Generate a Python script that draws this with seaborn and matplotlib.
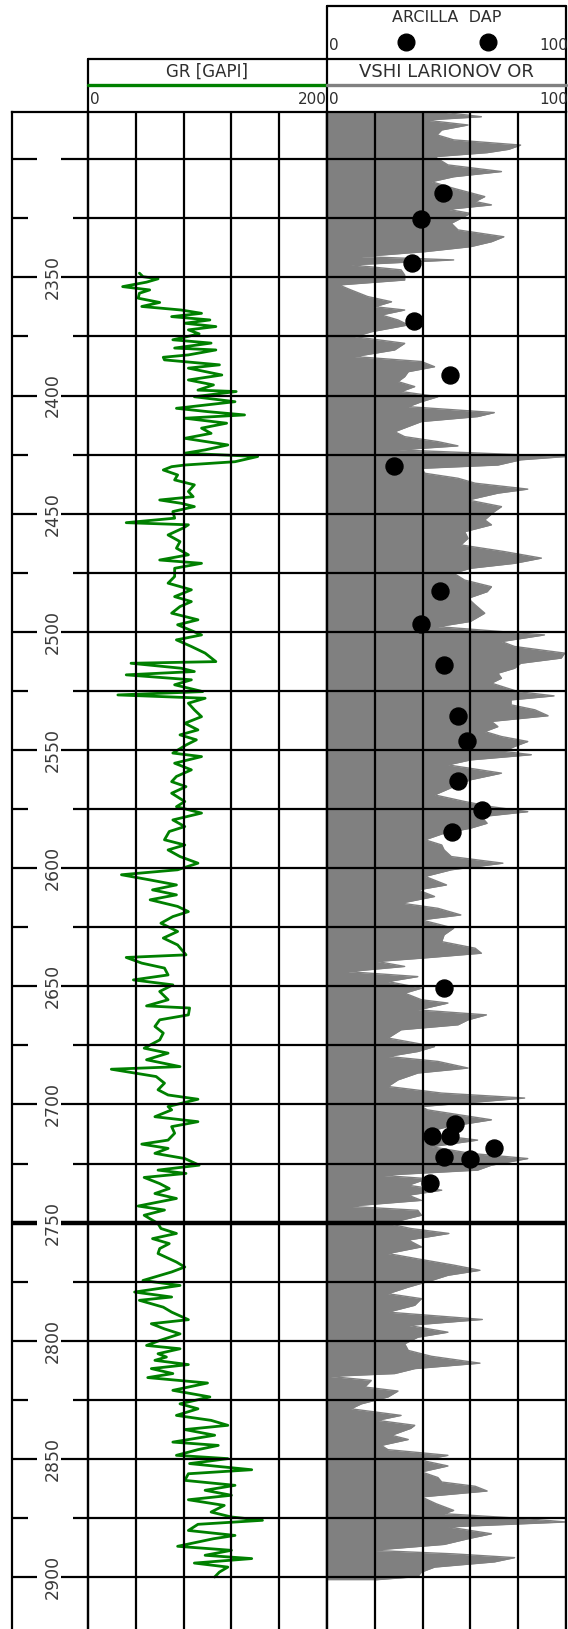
import numpy as np
import matplotlib
matplotlib.use('Agg')
import matplotlib.pyplot as plt
from matplotlib.lines import Line2D
import seaborn as sns

# GR curve (depth m, GAPI)
gr_depth = [2348.2, 2349.7, 2350.6, 2352.0, 2353.9, 2355.3, 2356.7, 2358.8, 2360.6, 2362.3,
            2363.8, 2365.2, 2366.6, 2368.0, 2369.4, 2370.8, 2372.2, 2373.9, 2376.4, 2377.8,
            2379.9, 2380.7, 2382.8, 2383.8, 2384.9, 2387.0, 2388.4, 2391.3, 2393.4, 2395.5,
            2397.7, 2398.3, 2400.5, 2402.6, 2405.4, 2406.8, 2408.2, 2409.6, 2411.7, 2413.8,
            2416.0, 2418.1, 2420.9, 2423.0, 2424.4, 2425.8, 2428.0, 2429.4, 2430.1, 2431.5,
            2433.6, 2435.7, 2437.8, 2440.6, 2442.8, 2444.2, 2445.6, 2447.0, 2449.1, 2451.9,
            2453.8, 2454.7, 2456.1, 2459.0, 2461.8, 2464.6, 2467.4, 2469.6, 2471.0, 2473.1,
            2476.6, 2479.4, 2482.2, 2485.1, 2487.2, 2489.3, 2492.1, 2494.9, 2497.0, 2501.3,
            2503.4, 2506.2, 2509.0, 2512.6, 2513.3, 2515.4, 2516.8, 2518.2, 2520.3, 2522.4,
            2525.3, 2526.7, 2528.1, 2530.2, 2533.0, 2535.9, 2538.7, 2541.5, 2543.6, 2545.7,
            2547.9, 2551.3, 2552.8, 2555.6, 2558.4, 2561.2, 2563.4, 2565.5, 2568.3, 2571.8,
            2574.0, 2576.7, 2579.6, 2582.4, 2584.5, 2588.0, 2590.2, 2592.3, 2595.1, 2597.9,
            2600.7, 2602.8, 2605.0, 2607.1, 2609.2, 2611.3, 2613.4, 2616.2, 2618.4, 2620.5,
            2623.3, 2626.8, 2629.6, 2632.5, 2636.7, 2637.8, 2640.2, 2642.3, 2645.2, 2647.3,
            2649.4, 2652.2, 2655.7, 2658.3, 2659.2, 2662.1, 2664.2, 2667.0, 2669.8, 2672.7,
            2676.2, 2678.3, 2681.1, 2684.0, 2685.1, 2688.2, 2691.0, 2693.8, 2696.0, 2697.8,
            2700.9, 2702.3, 2705.2, 2707.3, 2709.4, 2712.2, 2715.1, 2716.8, 2718.6, 2720.7,
            2722.9, 2725.7, 2727.8, 2729.2, 2730.9, 2733.5, 2735.6, 2737.7, 2739.8, 2743.0,
            2744.7, 2746.9, 2750.4, 2752.5, 2754.6, 2756.8, 2758.9, 2761.0, 2763.1, 2766.7,
            2768.8, 2770.9, 2774.5, 2776.6, 2779.4, 2781.5, 2782.9, 2785.8, 2787.9, 2791.1,
            2792.8, 2795.0, 2797.1, 2799.9, 2802.0, 2803.4, 2805.5, 2806.9, 2808.3, 2810.1,
            2811.8, 2813.9, 2815.6, 2817.9, 2819.6, 2821.0, 2823.8, 2826.7, 2828.8, 2831.6,
            2833.7, 2835.8, 2837.6, 2840.0, 2842.9, 2844.3, 2846.1, 2848.5, 2849.9, 2852.0,
            2854.6, 2856.3, 2859.1, 2861.2, 2863.3, 2865.4, 2867.3, 2869.7, 2872.5, 2874.6,
            2876.0, 2877.7, 2880.3, 2882.4, 2883.8, 2887.0, 2888.7, 2890.8, 2892.2, 2894.1,
            2895.8, 2897.9, 2900.0]
gr = [43, 46, 58.6, 49, 29, 51.6, 43, 42, 60, 45,
      78, 95, 70, 102, 81, 107, 84, 93, 71, 103,
      72.5, 107, 84, 63, 64, 110, 84, 112, 84, 105,
      92, 124, 89, 123, 74, 100, 131, 81, 116, 95,
      103, 81, 117, 98, 81, 142, 123, 81, 70, 63,
      75, 72.5, 89, 84, 88, 60, 78, 89, 71, 72.5,
      32, 84, 79.5, 67, 77, 74, 84, 60, 95, 72.5,
      72.5, 67, 86.5, 72.5, 86.5, 77, 70, 92, 75, 95,
      74, 86.5, 98, 107, 36, 78, 89, 32, 86.5, 72.5,
      96, 25, 98, 84, 89, 95, 81, 92, 77, 90.7,
      82, 71, 95, 72.5, 86.5, 74, 70, 82, 70, 81,
      74, 95, 71, 81, 68, 64, 81, 67, 77, 92,
      75, 28, 52, 74, 54, 74, 52, 75, 84, 71,
      61, 75, 63, 75, 82, 32, 45, 64, 67, 38,
      71, 60, 67, 49, 85, 84, 60, 56, 63, 60,
      47, 67, 49, 77, 19.5, 57, 64, 58.6, 67, 92,
      67, 70, 56, 92, 70, 72.5, 67, 45, 67, 56,
      81, 93, 58.6, 82, 47, 60, 68, 56, 74, 42,
      64, 47, 58.6, 61, 74, 54, 68, 60, 58.6, 74,
      81, 70, 46, 77, 39, 70, 43, 63, 70, 84,
      53, 64, 77, 60, 49, 77, 58.6, 65.6, 56, 84,
      53, 71, 50, 100, 84, 71, 102, 77, 92, 74,
      103, 117, 81, 106, 71, 109, 92, 74, 117, 85,
      137, 84, 81, 123, 98, 120, 84, 114, 103, 120,
      146, 92, 84, 123, 105, 75, 120, 98, 137, 89,
      117, 110, 106]

# VSHI LARIONOV OR (depth m, %)
vsh_depth = [2280.0, 2282.0, 2283.4, 2285.5, 2287.6, 2289.7, 2291.8, 2294.0, 2295.8, 2297.2,
             2298.9, 2302.4, 2305.2, 2307.4, 2309.5, 2312.3, 2315.8, 2317.9, 2319.3, 2321.2,
             2322.9, 2327.1, 2329.9, 2332.8, 2334.9, 2337.0, 2339.1, 2341.2, 2342.6, 2344.7,
             2346.8, 2349.0, 2351.1, 2353.2, 2355.3, 2358.1, 2360.3, 2362.4, 2363.8, 2365.9,
             2368.0, 2370.1, 2373.0, 2375.1, 2377.9, 2380.7, 2383.5, 2385.6, 2387.8, 2389.9,
             2392.0, 2394.1, 2396.2, 2398.3, 2400.5, 2402.6, 2404.7, 2407.2, 2408.9, 2411.0,
             2413.1, 2415.3, 2417.4, 2419.5, 2421.3, 2423.0, 2425.8, 2427.2, 2429.4, 2430.8,
             2432.9, 2435.0, 2437.1, 2439.6, 2441.3, 2444.2, 2447.0, 2449.1, 2452.6, 2454.7,
             2457.6, 2460.4, 2463.2, 2466.0, 2468.8, 2471.0, 2473.1, 2475.2, 2478.1, 2480.9,
             2483.0, 2485.8, 2488.6, 2492.1, 2495.6, 2497.8, 2501.3, 2504.1, 2506.2, 2509.0,
             2511.1, 2513.3, 2515.4, 2517.5, 2519.6, 2521.7, 2525.3, 2527.1, 2528.8, 2530.9,
             2533.0, 2535.5, 2537.9, 2540.1, 2542.2, 2544.3, 2546.4, 2548.5, 2550.6, 2552.0,
             2554.2, 2556.3, 2559.8, 2562.6, 2565.5, 2569.0, 2571.8, 2574.0, 2576.1, 2578.2,
             2581.0, 2583.1, 2585.2, 2588.0, 2590.2, 2592.3, 2595.1, 2597.9, 2600.7, 2603.5,
             2607.1, 2609.2, 2612.0, 2614.8, 2617.0, 2619.8, 2621.9, 2625.4, 2628.2, 2631.1,
             2633.9, 2636.0, 2638.1, 2639.5, 2641.6, 2643.8, 2645.9, 2648.0, 2650.8, 2652.9,
             2655.7, 2657.1, 2660.0, 2662.1, 2664.2, 2666.3, 2668.4, 2671.9, 2675.5, 2677.6,
             2679.7, 2681.8, 2684.6, 2686.7, 2689.6, 2692.4, 2695.2, 2697.3, 2700.9, 2702.3,
             2706.5, 2709.4, 2712.2, 2715.1, 2717.9, 2720.7, 2722.9, 2725.7, 2727.8, 2730.0,
             2731.4, 2734.2, 2736.3, 2738.4, 2740.6, 2743.1, 2744.8, 2746.9, 2750.4, 2752.5,
             2754.6, 2757.4, 2760.3, 2763.1, 2765.9, 2768.0, 2770.2, 2772.3, 2774.5, 2777.3,
             2780.1, 2782.2, 2785.0, 2787.9, 2791.0, 2793.5, 2796.4, 2798.5, 2801.3, 2804.1,
             2806.6, 2809.5, 2811.8, 2813.9, 2815.1, 2816.8, 2819.6, 2821.3, 2823.8, 2826.7,
             2828.8, 2831.6, 2833.7, 2835.8, 2837.1, 2840.0, 2841.8, 2844.3, 2846.1, 2848.5,
             2850.6, 2853.0, 2855.5, 2857.9, 2859.8, 2861.6, 2863.6, 2866.1, 2869.0, 2871.8,
             2873.2, 2875.3, 2876.7, 2878.8, 2881.7, 2883.8, 2886.2, 2888.7, 2890.2, 2891.8,
             2893.6, 2895.8, 2897.9, 2899.8, 2901.2]
vsh = [48, 64.6, 41, 59, 48, 46, 53, 81, 76, 67,
       45, 50.6, 73, 53, 43.7, 53, 66, 62, 68.8, 50.6,
       60, 52, 54.8, 74, 68.8, 60, 41, 14.4, 53, 10,
       31, 32.5, 32.5, 5, 10, 17, 27, 20, 32.5, 22.7,
       29.7, 34, 18.5, 11.6, 32.5, 28.3, 11.6, 39.5, 45, 34,
       32.5, 29.7, 36.7, 31, 46.4, 39.5, 34, 70, 63, 39.5,
       34, 28.3, 32.5, 46.4, 54.8, 29.7, 100, 81, 71.5, 39.5,
       41, 54.8, 62, 84, 71.5, 59, 73, 70, 66, 68.8,
       57.6, 59, 56, 74, 89.7, 78.5, 60, 53, 57.6, 68.8,
       67, 59, 62, 66, 60, 46.4, 91, 73, 78.5, 99.4,
       98, 81, 78.5, 71.5, 73, 68.8, 80, 95, 77, 77,
       87, 92.5, 68.8, 71.5, 66, 73, 84, 78.5, 74, 85.5,
       60, 50.6, 73, 60, 53, 45, 57.6, 68.8, 84, 64.6,
       67, 60, 49, 41, 48, 49, 52, 73.6, 52, 41,
       50, 38, 45, 31, 46.4, 56, 39.5, 53, 49, 48,
       62, 64.6, 39.5, 21, 32.5, 8.8, 38, 25.5, 39.5, 32.5,
       39.5, 50.6, 38, 66.7, 59, 54.8, 31, 25.5, 45, 38,
       25.5, 46.4, 59, 38, 29.7, 25.5, 48, 82.7, 39.5, 42,
       68.8, 50.6, 39.5, 63, 43.7, 60, 84, 68.8, 63, 22.7,
       42, 34, 48, 34, 39.5, 8.8, 38, 39.5, 25.5, 35,
       51, 34, 39.5, 25.5, 41, 53, 64, 50.6, 43.7, 34,
       25.5, 39.5, 36.7, 25.5, 65, 34, 50.6, 38, 32.5, 34,
       43.7, 64, 36.7, 28.3, 1, 18.5, 15.8, 29.7, 25.5, 14.4,
       10, 31, 21, 36.7, 35, 27, 34, 22.7, 25.5, 50.6,
       39.5, 50.6, 39.5, 46.4, 48, 62, 67, 39.5, 45.7, 53,
       49, 83, 100, 50.6, 68.8, 59, 49, 18.5, 53, 78.5,
       70, 45, 39.5, 38, 20]

# ARCILLA DAP points
dap_depth = [2314.2, 2325.3, 2343.9, 2368.6, 2391.2, 2429.7, 2482.9, 2496.5, 2514.1, 2535.6,
             2546.2, 2563.3, 2575.2, 2584.8, 2650.7, 2708.4, 2713.5, 2713.5, 2718.3, 2722.3,
             2723.0, 2733.3]
dap = [48.7, 39.2, 35.7, 36.5, 51.3, 27.9, 47.4, 39.2, 49.1, 54.8,
       58.7, 54.8, 64.8, 52.2, 49.1, 53.5, 44.0, 51.5, 70.0, 49.0,
       59.8, 43.0]

depth_labels = [2350, 2400, 2450, 2500, 2550, 2600, 2650, 2700, 2750, 2800, 2850, 2900]

sns.set_style('white')
plt.rcParams['font.family'] = ['DejaVu Sans']

W, H = 568, 1629
fig = plt.figure(figsize=(W / 100, H / 100), dpi=100)
top_px = 112
frac_h = 1 - top_px / H

ax_d = fig.add_axes([12 / W, 0, 76 / W, frac_h])
ax_g = fig.add_axes([88 / W, 0, 239 / W, frac_h])
ax_v = fig.add_axes([327 / W, 0, 239 / W, frac_h])

grid_depths = np.arange(2300, 2925, 25)
for ax, xmax in [(ax_d, 1), (ax_g, 200), (ax_v, 100)]:
    ax.set_ylim(2922, 2280)
    ax.set_xlim(0, xmax)
    ax.set_axisbelow(False)
    for s in ['left', 'right', 'top']:
        ax.spines[s].set_color('black')
        ax.spines[s].set_linewidth(1.6)
    ax.spines['bottom'].set_visible(False)
    ax.tick_params(length=0, labelbottom=False, labelleft=False)

for ax, xmax in [(ax_g, 200), (ax_v, 100)]:
    ax.set_xticks(np.linspace(0, xmax, 6))
    ax.set_yticks(grid_depths)
    ax.grid(True, color='black', lw=1.6)
    ax.axhline(2750, color='black', lw=3.2, zorder=4)
ax_d.set_xticks([])
ax_d.set_yticks([])

# depth track ticks and labels
for d in grid_depths:
    lw = 3.2 if d == 2750 else 1.6
    if d % 50 == 0:
        gaps = (0.33, 0.64)
    else:
        gaps = (0.21, 0.80)
    ax_d.hlines(d, 0, gaps[0], color='black', lw=lw)
    ax_d.hlines(d, gaps[1], 1, color='black', lw=lw)
for d in depth_labels:
    ax_d.text(0.53, d, str(d), rotation=90, ha='center', va='center',
              fontsize=12.5, color='#3a3a3a')

# GR curve
sns.lineplot(x=gr, y=gr_depth, sort=False, estimator=None, color='#008000',
             lw=2.0, ax=ax_g, zorder=2)
ax_g.set_xlabel('')
ax_g.set_ylabel('')

# VSH fill + DAP points
ax_v.fill_betweenx(vsh_depth, 0, vsh, color='#808080', lw=0, zorder=1)
sns.lineplot(x=vsh, y=vsh_depth, sort=False, estimator=None, color='#808080',
             lw=1.0, ax=ax_v, zorder=1)
sns.scatterplot(x=dap, y=dap_depth, color='black', s=150, edgecolor='black',
                ax=ax_v, zorder=6, clip_on=False)
ax_v.set_xlabel('')
ax_v.set_ylabel('')


# header (pixel coords)
def fx(x):
    return x / W


def fy(y):
    return 1 - y / H


def hline(x0, x1, y, color='black', lw=1.6):
    fig.add_artist(Line2D([fx(x0), fx(x1)], [fy(y), fy(y)], color=color, lw=lw,
                          transform=fig.transFigure))


def vline(x, y0, y1, lw=1.6):
    fig.add_artist(Line2D([fx(x), fx(x)], [fy(y0), fy(y1)], color='black', lw=lw,
                          transform=fig.transFigure))


txt = '#2e2e2e'
hline(327, 566, 6)
vline(327, 6, top_px)
vline(566, 6, top_px)
hline(88, 566, 59)
vline(88, 59, top_px)

fig.text(fx(446.5), fy(18), 'ARCILLA  DAP', ha='center', va='center', fontsize=11.5, color=txt)
fig.add_artist(Line2D([fx(406), fx(488)], [fy(42), fy(42)], ls='none', marker='o',
                      ms=12, color='black', transform=fig.transFigure))
fig.text(fx(329), fy(45), '0', ha='left', va='center', fontsize=11, color=txt)
fig.text(fx(568), fy(45), '100', ha='right', va='center', fontsize=11, color=txt)

fig.text(fx(207.5), fy(72), 'GR [GAPI]', ha='center', va='center', fontsize=12, color=txt)
hline(88, 327, 85, color='#008000', lw=2.4)
fig.text(fx(90), fy(99), '0', ha='left', va='center', fontsize=11, color=txt)
fig.text(fx(327), fy(99), '200', ha='right', va='center', fontsize=11, color=txt)

fig.text(fx(446.5), fy(72), 'VSHI LARIONOV OR', ha='center', va='center', fontsize=13, color=txt)
hline(327, 566, 85, color='#808080', lw=2.4)
fig.text(fx(329), fy(99), '0', ha='left', va='center', fontsize=11, color=txt)
fig.text(fx(568), fy(99), '100', ha='right', va='center', fontsize=11, color=txt)

fig.savefig('out.png', dpi=100)
